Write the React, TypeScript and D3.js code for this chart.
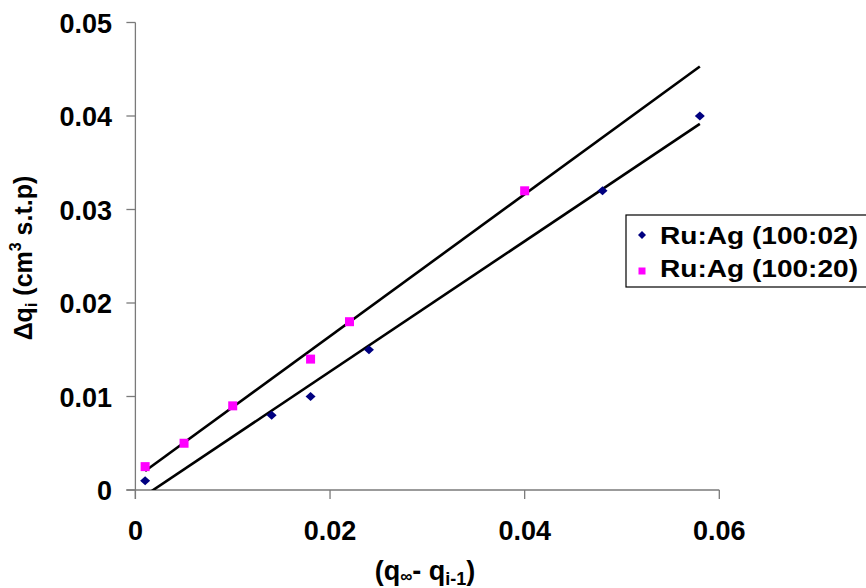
import React from "react";
import * as d3 from "d3";

const seriesNames = ["Ru:Ag (100:02)", "Ru:Ag (100:20)"];
const xA = [0.001, 0.014, 0.018, 0.024, 0.048, 0.058];
const yA = [0.001, 0.008, 0.010, 0.015, 0.032, 0.040];
const xB = [0.001, 0.005, 0.010, 0.018, 0.022, 0.040];
const yB = [0.0025, 0.005, 0.009, 0.014, 0.018, 0.032];
const xTicks = [0, 0.02, 0.04, 0.06];
const yTicks = [0, 0.01, 0.02, 0.03, 0.04, 0.05];

const W = 866;
const H = 588;
const FONT = "'Liberation Sans', Arial, Helvetica, sans-serif";

function fit(xs: number[], ys: number[]) {
  const mx = d3.mean(xs)!;
  const my = d3.mean(ys)!;
  let sxy = 0, sxx = 0;
  xs.forEach((x, i) => {
    sxy += (x - mx) * (ys[i] - my);
    sxx += (x - mx) * (x - mx);
  });
  const m = sxy / sxx;
  return { m, b: my - m * mx };
}

const diamondPath = (w: number, h: number) =>
  `M0,${-h / 2}L${w / 2},0L0,${h / 2}L${-w / 2},0Z`;

export default function App() {
  const x = d3.scaleLinear().domain([0, 0.06]).range([135.4, 719.3]);
  const y = d3.scaleLinear().domain([0, 0.05]).range([490, 22.5]);
  const allX = [...xA, ...xB];
  const [x0, x1] = d3.extent(allX) as [number, number];
  const fits = [fit(xA, yA), fit(xB, yB)];
  const line = d3
    .line<[number, number]>()
    .x((d) => x(d[0]))
    .y((d) => y(d[1]));
  const axisColor = "#7a7a7a";

  return (
    <svg
      width={W}
      height={H}
      style={{ position: "absolute", left: 0, top: 0, background: "#fff" }}
      fontFamily={FONT}
      fontWeight="bold"
    >
      <defs>
        <clipPath id="plot">
          <rect x={x(0)} y={y(0.05)} width={x(0.06) - x(0)} height={y(0) - y(0.05)} />
        </clipPath>
      </defs>
      {/* axes */}
      <line x1={x(0)} x2={x(0)} y1={y(0.05)} y2={y(0) + 9} stroke={axisColor} strokeWidth={1.3} />
      <line x1={x(0) - 9} x2={x(0.06)} y1={y(0)} y2={y(0)} stroke={axisColor} strokeWidth={1.3} />
      {yTicks.map((t) => (
        <g key={"y" + t}>
          <line x1={x(0) - 9} x2={x(0)} y1={y(t)} y2={y(t)} stroke={axisColor} strokeWidth={1.3} />
          <text x={112} y={y(t) + 10} textAnchor="end" fontSize={27} fill="#000">
            {t === 0 ? "0" : t.toFixed(2)}
          </text>
        </g>
      ))}
      {xTicks.map((t) => (
        <g key={"x" + t}>
          <line x1={x(t)} x2={x(t)} y1={y(0)} y2={y(0) + 9} stroke={axisColor} strokeWidth={1.3} />
          <text x={x(t)} y={540} textAnchor="middle" fontSize={27} fill="#000">
            {t === 0 ? "0" : t.toFixed(2)}
          </text>
        </g>
      ))}
      {/* trend lines */}
      <g clipPath="url(#plot)">
        {fits.map((f, i) => (
          <path
            key={"fit" + i}
            d={line([
              [x0, f.m * x0 + f.b],
              [x1, f.m * x1 + f.b],
            ])!}
            fill="none"
            stroke="#000"
            strokeWidth={2.6}
          />
        ))}
      </g>
      {/* points */}
      {xB.map((v, i) => (
        <rect key={"b" + i} x={x(v) - 4.5} y={y(yB[i]) - 4.5} width={9} height={9} fill="#ff00ff" />
      ))}
      {xA.map((v, i) => (
        <path key={"a" + i} d={diamondPath(10, 9)} transform={`translate(${x(v)},${y(yA[i])})`} fill="#000080" />
      ))}
      {/* axis titles */}
      <text x={425} y={580} textAnchor="middle" fontSize={27} fill="#000">
        (q<tspan fontSize={17} dy={2}>∞</tspan>
        <tspan dy={-2}>- q</tspan>
        <tspan fontSize={18} dy={5}>i-1</tspan>
        <tspan dy={-5}>)</tspan>
      </text>
      <text transform="translate(32,258) rotate(-90)" textAnchor="middle" fontSize={25} fill="#000">
        Δq<tspan fontSize={16} dy={5}>i</tspan>
        <tspan dy={-5}> (cm</tspan>
        <tspan fontSize={16} dy={-11}>3</tspan>
        <tspan dy={11}> s.t.p)</tspan>
      </text>
      {/* legend */}
      <rect x={626} y={215} width={260} height={72} fill="#fff" stroke="#000" strokeWidth={1.2} />
      <path d={diamondPath(8, 8)} transform="translate(642,235)" fill="#000080" />
      <rect x={638.5} y={267.5} width={7} height={7} fill="#ff00ff" />
      {seriesNames.map((n, i) => (
        <text
          key={n}
          x={660}
          y={244 + i * 33}
          fontSize={23.5}
          fill="#000"
          textLength={198}
          lengthAdjust="spacingAndGlyphs"
        >
          {n}
        </text>
      ))}
    </svg>
  );
}
